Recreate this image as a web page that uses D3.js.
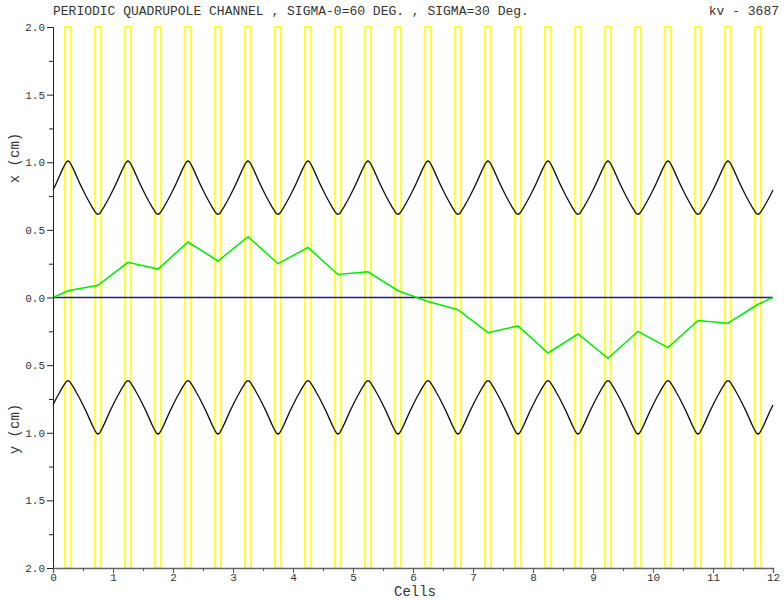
<!DOCTYPE html>
<html>
<head>
<meta charset="utf-8">
<script src="https://cdn.jsdelivr.net/npm/d3@7"></script>
<style>
  body { margin: 0; background: #fff; }
  text { font-family: "Liberation Mono", "DejaVu Sans Mono", monospace; }
</style>
</head>
<body>
<script>
// channel layout
var nCells = 12
var lensCenters = [0.25, 0.75]      // lens positions inside one cell
var lensWidth = 0.1

// beam envelope over one cell (offset in cell, value in cm)
var cellOffsets = [0, 0.05, 0.1, 0.15, 0.2, 0.225, 0.25, 0.275, 0.3, 0.35, 0.4, 0.45, 0.5,
                   0.55, 0.6, 0.65, 0.7, 0.725, 0.75, 0.775, 0.8, 0.85, 0.9, 0.95, 1.0]
var xEnvelope = [0.795, 0.84, 0.89, 0.94, 0.985, 1.002, 1.01, 1.002, 0.985, 0.94, 0.89, 0.84, 0.795,
                 0.75, 0.71, 0.67, 0.635, 0.62, 0.615, 0.62, 0.635, 0.67, 0.71, 0.75, 0.795]
var yEnvelope = [0.795, 0.75, 0.71, 0.67, 0.635, 0.62, 0.615, 0.62, 0.635, 0.67, 0.71, 0.75, 0.795,
                 0.84, 0.89, 0.94, 0.985, 1.002, 1.01, 1.002, 0.985, 0.94, 0.89, 0.84, 0.795]

// beam centroid (green)
var centroidS = [0, 0.25, 0.75, 1.25, 1.75, 2.25, 2.75, 3.25, 3.75, 4.25, 4.75, 5.25,
                 5.75, 6.25, 6.75, 7.25, 7.75, 8.25, 8.75, 9.25, 9.75, 10.25, 10.75,
                 11.25, 11.75, 12]
var centroidX = [0, 0.05, 0.09, 0.26, 0.21, 0.41, 0.27, 0.45, 0.25, 0.37, 0.17, 0.19,
                 0.05, -0.03, -0.09, -0.26, -0.21, -0.41, -0.27, -0.45, -0.25, -0.37,
                 -0.17, -0.19, -0.05, 0]

var yTicks = [2.0, 1.5, 1.0, 0.5, 0.0, -0.5, -1.0, -1.5, -2.0]
var titleText = "PERIODIC QUADRUPOLE CHANNEL , SIGMA-0=60 DEG. , SIGMA=30 Deg."
var runText = "kv - 3687"

var w = 784, h = 600
var plotL = 53, plotR = 773, plotT = 27, plotB = 568

var svg = d3.select("body").append("svg")
    .attr("width", w).attr("height", h)

var x = d3.scaleLinear().domain([0, nCells]).range([plotL, plotR])
var y = d3.scaleLinear().domain([-2, 2]).range([plotB, plotT])

// quadrupole lenses
var lenses = []
d3.range(nCells).forEach(function(c) {
  lensCenters.forEach(function(lc) { lenses.push(c + lc) })
})
svg.selectAll("rect.lens")
    .data(lenses)
  .enter().append("rect")
    .attr("class", "lens")
    .attr("x", function(d) { return x(d - lensWidth / 2) })
    .attr("width", function(d) { return x(d + lensWidth / 2) - x(d - lensWidth / 2) })
    .attr("y", y(2))
    .attr("height", y(-2) - y(2))
    .style("fill", "none")
    .style("stroke", "#ffff00")
    .style("stroke-width", 1.6)

// tile the one-cell envelope across the channel
function tile(profile, sign) {
  var pts = []
  d3.range(nCells).forEach(function(c) {
    cellOffsets.forEach(function(o, i) {
      if (c > 0 && i === 0) return
      pts.push([c + o, sign * profile[i]])
    })
  })
  return pts
}

var line = d3.line()
    .x(function(d) { return x(d[0]) })
    .y(function(d) { return y(d[1]) })

svg.append("path").datum(tile(xEnvelope, 1))
    .attr("d", line)
    .style("fill", "none").style("stroke", "#111").style("stroke-width", 1.3)
svg.append("path").datum(tile(yEnvelope, -1))
    .attr("d", line)
    .style("fill", "none").style("stroke", "#111").style("stroke-width", 1.3)

// zero line
svg.append("line")
    .attr("x1", x(0)).attr("x2", x(nCells))
    .attr("y1", y(0)).attr("y2", y(0))
    .style("stroke", "#1a1a8c").style("stroke-width", 1.5)

// centroid
svg.append("path")
    .datum(centroidS.map(function(s, i) { return [s, centroidX[i]] }))
    .attr("d", line)
    .style("fill", "none").style("stroke", "#00ee00").style("stroke-width", 1.5)

// left axis
var yAxis = d3.axisLeft(y).tickValues(yTicks).tickSize(6).tickPadding(2)
    .tickFormat(function(d) { return Math.abs(d).toFixed(1) })
var gy = svg.append("g").attr("transform", "translate(" + plotL + ",0)").call(yAxis)
gy.select(".domain").style("stroke", "#222")
gy.selectAll(".tick line").style("stroke", "#222")
gy.selectAll("text").style("font-size", "11px").style("fill", "#333")
    .style("font-family", "Liberation Mono, monospace")
var gym = svg.append("g").attr("transform", "translate(" + plotL + ",0)")
    .call(d3.axisLeft(y).tickValues(d3.range(-1.75, 2, 0.5)).tickSize(4).tickFormat(""))
gym.select(".domain").remove()
gym.selectAll(".tick line").style("stroke", "#222")

// bottom axis
var xAxis = d3.axisBottom(x).tickValues(d3.range(0, nCells + 1)).tickSize(5).tickPadding(0)
    .tickFormat(d3.format("d"))
var gx = svg.append("g").attr("transform", "translate(0," + plotB + ")").call(xAxis)
gx.select(".domain").style("stroke", "#666").style("stroke-width", 1.3)
gx.selectAll(".tick line").style("stroke", "#555")
gx.selectAll("text").style("font-size", "11px").style("fill", "#333")
    .style("font-family", "Liberation Mono, monospace")
var gxm = svg.append("g").attr("transform", "translate(0," + plotB + ")")
    .call(d3.axisBottom(x).tickValues(d3.range(0.5, nCells, 1)).tickSize(3).tickFormat(""))
gxm.select(".domain").remove()
gxm.selectAll(".tick line").style("stroke", "#555")

// titles
svg.append("text").attr("x", plotL).attr("y", 15)
    .style("font-size", "13px").style("fill", "#333").text(titleText)
svg.append("text").attr("x", 779).attr("y", 15).attr("text-anchor", "end")
    .style("font-size", "13px").style("fill", "#333").text(runText)
svg.append("text").attr("x", 415).attr("y", 596).attr("text-anchor", "middle")
    .style("font-size", "14px").style("fill", "#333").text("Cells")
svg.append("text").attr("transform", "translate(19,158) rotate(-90)")
    .attr("text-anchor", "middle")
    .style("font-size", "14px").style("fill", "#333").text("x (cm)")
svg.append("text").attr("transform", "translate(19,429) rotate(-90)")
    .attr("text-anchor", "middle")
    .style("font-size", "14px").style("fill", "#333").text("y (cm)")
</script>
</body>
</html>
